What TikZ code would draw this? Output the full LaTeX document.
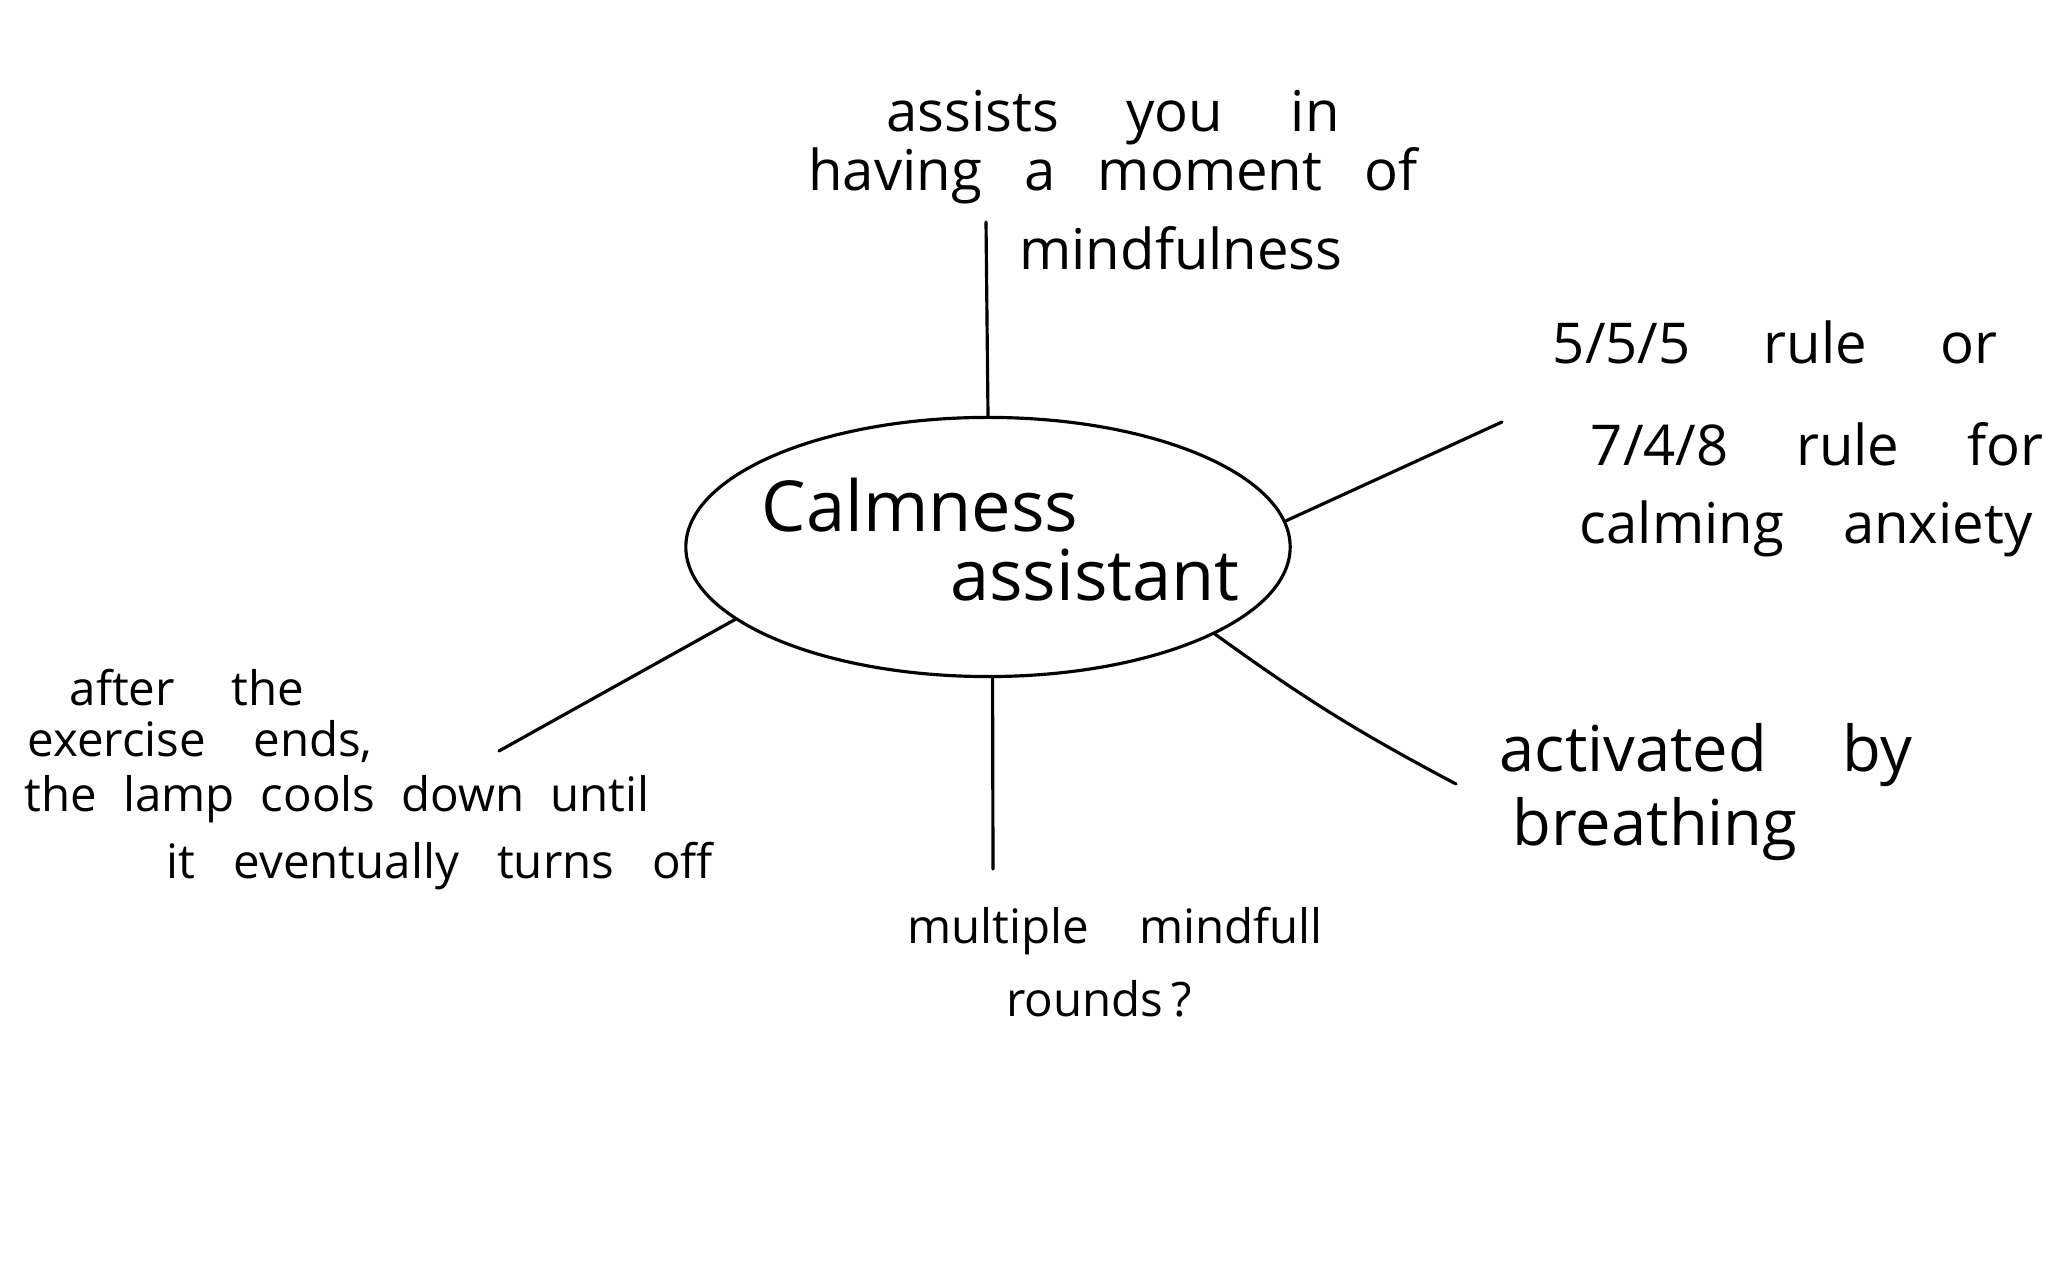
\documentclass[tikz,border=0pt]{standalone}
\usepackage{fontspec}
\setmainfont{Open Sans}
\usetikzlibrary{shapes.geometric}
\newcommand{\wsp}[1]{\spaceskip=#1\relax}
\begin{document}
\begin{tikzpicture}[x=0.01cm,y=-0.01cm,
  ink/.style={draw=black, line width=0.9pt, line cap=round},
  txt/.style={inner sep=0pt, anchor=center, font=\fontsize{16pt}{19pt}\selectfont},
  mid/.style={inner sep=0pt, anchor=center, font=\fontsize{18pt}{21pt}\selectfont},
  small/.style={inner sep=0pt, anchor=center, font=\fontsize{13.5pt}{16pt}\selectfont},
  big/.style={inner sep=0pt, anchor=center, font=\fontsize{20pt}{24pt}\selectfont}]
\fill[white] (0,0) rectangle (2048,1271);
\useasboundingbox (0,0) rectangle (2048,1271);

% central blob
\node[ellipse, ink, minimum width=6.04cm, minimum height=2.59cm, inner sep=0pt] (core) at (988,547) {};
\node[big] (c1) at (920,505) {Calmness};
\node[big] (c2) at (1095,575) {assistant};

% top
\node[txt] (t1) at (1113,118) {\wsp{1.2em}assists you in};
\node[txt] (t2) at (1113,176) {\wsp{0.75em}having a moment of};
\node[txt] (t3) at (1181,248) {mindfulness};

% right upper
\node[txt] (r1) at (1775,342) {\wsp{1.3em}5/5/5 rule or};
\node[txt] (r2) at (1817,444) {\wsp{1.2em}7/4/8 rule for};
\node[txt] (r3) at (1806,529) {\wsp{1.05em}calming anxiety};

% right lower
\node[mid] (b1) at (1706,755) {\wsp{1.2em}activated by};
\node[mid] (b2) at (1655,829) {breathing};

% bottom
\node[small] (m1) at (1115,931) {\wsp{1.05em}multiple mindfull};
\node[small] (m2) at (1099,999) {rounds\,?};

% left
\node[small] (l1) at (187,688) {\wsp{1.2em}after the};
\node[small] (l2) at (200,742) {\wsp{1.0em}exercise ends,};
\node[small] (l3) at (337,799) {\wsp{0.55em}the lamp cools down until};
\node[small] (l4) at (440,866) {\wsp{0.8em}it eventually turns off};

% connector ends
\coordinate (topend) at (986,222);
\coordinate (ruend) at (1502,422);
\coordinate (rlend) at (1456,784);
\coordinate (botend) at (993,869);
\coordinate (leftend) at (499,751);

\draw[ink] (core.north) -- (topend);
\draw[ink] (core.5) -- (ruend);
\draw[ink] (core.-21) to[bend right=4] (rlend);
\draw[ink] (core.-88) -- (botend);
\draw[ink] (core.196) -- (leftend);
\end{tikzpicture}
\end{document}
